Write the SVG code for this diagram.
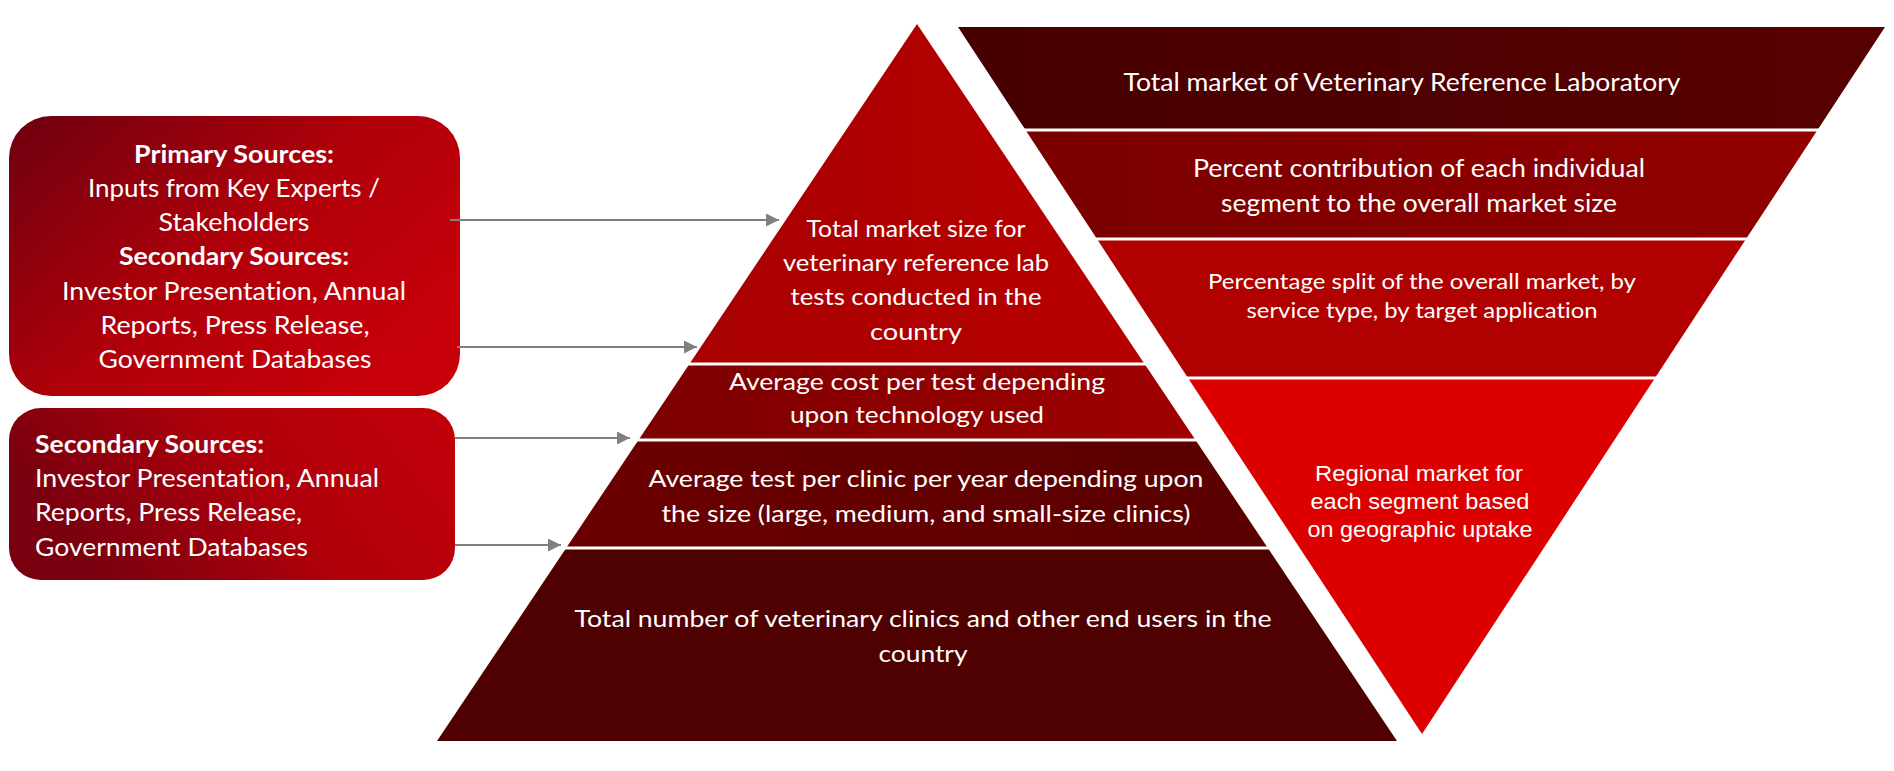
<svg xmlns="http://www.w3.org/2000/svg" width="1894" height="771" viewBox="0 0 1894 771">
  <defs>
    <linearGradient id="gBox1" x1="0" y1="0" x2="1" y2="0.7">
      <stop offset="0" stop-color="#6e0010"/>
      <stop offset="0.55" stop-color="#b0000a"/>
      <stop offset="1" stop-color="#c8000a"/>
    </linearGradient>
    <linearGradient id="gBox2" x1="0" y1="0.3" x2="1" y2="0">
      <stop offset="0" stop-color="#7a0010"/>
      <stop offset="0.5" stop-color="#b0000a"/>
      <stop offset="1" stop-color="#c4000a"/>
    </linearGradient>
    <linearGradient id="gP1" x1="0" y1="0" x2="1" y2="0">
      <stop offset="0" stop-color="#a80000"/>
      <stop offset="1" stop-color="#b80000"/>
    </linearGradient>
    <linearGradient id="gP2" x1="0" y1="0" x2="1" y2="0">
      <stop offset="0" stop-color="#7c0000"/>
      <stop offset="1" stop-color="#a00000"/>
    </linearGradient>
    <linearGradient id="gP3" x1="0" y1="0" x2="1" y2="0">
      <stop offset="0" stop-color="#6c0000"/>
      <stop offset="1" stop-color="#5a0000"/>
    </linearGradient>
    <linearGradient id="gI1" x1="0" y1="0" x2="1" y2="0">
      <stop offset="0" stop-color="#460000"/>
      <stop offset="1" stop-color="#580000"/>
    </linearGradient>
    <linearGradient id="gI2" x1="0" y1="0" x2="1" y2="0">
      <stop offset="0" stop-color="#7a0000"/>
      <stop offset="1" stop-color="#920000"/>
    </linearGradient>
    <marker id="arrow" viewBox="0 0 10 10" refX="10" refY="5" markerUnits="userSpaceOnUse" markerWidth="14" markerHeight="13" orient="auto">
      <path d="M0,0 L10,5 L0,10 Z" fill="#808080"/>
    </marker>
    <style>
      .t { font-family: Lato, "Open Sans", sans-serif; fill: #ffffff; font-variant-ligatures: none; font-feature-settings: "liga" 0, "clig" 0; }
      .c { text-anchor: middle; }
      .b { font-weight: bold; }
      .s25 { font-size: 25px; }
      .s24 { font-size: 24px; }
      .s22 { font-size: 22px; }
      .ar { font-family: "Liberation Sans", Arial, sans-serif; font-size: 22px; fill: #ffffff; text-anchor: middle; }
      .sep { stroke: #ffffff; stroke-width: 3; }
      .conn { stroke: #808080; stroke-width: 2; fill: none; marker-end: url(#arrow); }
    </style>
  </defs>

  <rect x="0" y="0" width="1894" height="771" fill="#ffffff"/>

  <!-- Left source boxes -->
  <g id="box-primary-secondary">
    <rect x="9" y="116" width="451" height="280" rx="42" ry="42" fill="url(#gBox1)"/>
    <text class="t c b s25" x="234" y="163" textLength="200" lengthAdjust="spacingAndGlyphs">Primary Sources:</text>
    <text class="t c s25" x="234" y="197" textLength="292" lengthAdjust="spacingAndGlyphs">Inputs from Key Experts /</text>
    <text class="t c s25" x="234" y="231" textLength="151" lengthAdjust="spacingAndGlyphs">Stakeholders</text>
    <text class="t c b s25" x="234" y="265" textLength="230" lengthAdjust="spacingAndGlyphs">Secondary Sources:</text>
    <text class="t c s25" x="234" y="300" textLength="344" lengthAdjust="spacingAndGlyphs">Investor Presentation, Annual</text>
    <text class="t c s25" x="235" y="334" textLength="269" lengthAdjust="spacingAndGlyphs">Reports, Press Release,</text>
    <text class="t c s25" x="235" y="368" textLength="273" lengthAdjust="spacingAndGlyphs">Government Databases</text>
  </g>

  <g id="box-secondary">
    <rect x="9" y="408" width="446" height="172" rx="32" ry="32" fill="url(#gBox2)"/>
    <text class="t b s25" x="35" y="453" textLength="229" lengthAdjust="spacingAndGlyphs">Secondary Sources:</text>
    <text class="t s25" x="35" y="487" textLength="344" lengthAdjust="spacingAndGlyphs">Investor Presentation, Annual</text>
    <text class="t s25" x="35" y="521" textLength="267" lengthAdjust="spacingAndGlyphs">Reports, Press Release,</text>
    <text class="t s25" x="35" y="556" textLength="273" lengthAdjust="spacingAndGlyphs">Government Databases</text>
  </g>

  <!-- Upward pyramid -->
  <g id="pyramid-top">
    <polygon points="917,24 1144.6,364 689.4,364" fill="url(#gP1)"/>
    <text class="t c s24" x="916" y="237" textLength="219" lengthAdjust="spacingAndGlyphs">Total market size for</text>
    <text class="t c s24" x="916" y="271" textLength="266" lengthAdjust="spacingAndGlyphs">veterinary reference lab</text>
    <text class="t c s24" x="916" y="305" textLength="251" lengthAdjust="spacingAndGlyphs">tests conducted in the</text>
    <text class="t c s24" x="916" y="340" textLength="92" lengthAdjust="spacingAndGlyphs">country</text>
  </g>
  <g id="pyramid-cost">
    <polygon points="689.4,364 1144.6,364 1195.5,440 638.5,440" fill="url(#gP2)"/>
    <text class="t c s24" x="917" y="390" textLength="376" lengthAdjust="spacingAndGlyphs">Average cost per test depending</text>
    <text class="t c s24" x="917" y="423" textLength="254" lengthAdjust="spacingAndGlyphs">upon technology used</text>
  </g>
  <g id="pyramid-tests">
    <polygon points="638.5,440 1195.5,440 1267.8,548 566.2,548" fill="url(#gP3)"/>
    <text class="t c s24" x="926" y="487" textLength="555" lengthAdjust="spacingAndGlyphs">Average test per clinic per year depending upon</text>
    <text class="t c s24" x="926" y="522" textLength="529" lengthAdjust="spacingAndGlyphs">the size (large, medium, and small-size clinics)</text>
  </g>
  <g id="pyramid-clinics">
    <polygon points="566.2,548 1267.8,548 1397,741 437,741" fill="#4f0000"/>
    <text class="t c s24" x="923" y="627" textLength="697" lengthAdjust="spacingAndGlyphs">Total number of veterinary clinics and other end users in the</text>
    <text class="t c s24" x="923" y="662" textLength="89" lengthAdjust="spacingAndGlyphs">country</text>
  </g>

  <!-- Inverted triangle -->
  <g id="inv-total">
    <polygon points="958,27 1885,27 1817.5,130 1025.5,130" fill="url(#gI1)"/>
    <text class="t c s25" x="1402" y="91" textLength="557" lengthAdjust="spacingAndGlyphs">Total market of Veterinary Reference Laboratory</text>
  </g>
  <g id="inv-percent">
    <polygon points="1025.5,130 1817.5,130 1746,239 1097,239" fill="url(#gI2)"/>
    <text class="t c s25" x="1419" y="177" textLength="452" lengthAdjust="spacingAndGlyphs">Percent contribution of each individual</text>
    <text class="t c s25" x="1419" y="212" textLength="396" lengthAdjust="spacingAndGlyphs">segment to the overall market size</text>
  </g>
  <g id="inv-split">
    <polygon points="1097,239 1746,239 1655,378 1188,378" fill="#b00000"/>
    <text class="t c s22" x="1422" y="289" textLength="428" lengthAdjust="spacingAndGlyphs">Percentage split of the overall market, by</text>
    <text class="t c s22" x="1422" y="318" textLength="351" lengthAdjust="spacingAndGlyphs">service type, by target application</text>
  </g>
  <g id="inv-regional">
    <polygon points="1188,378 1655,378 1422,734" fill="#dc0000"/>
    <text class="ar" x="1419" y="481" textLength="208" lengthAdjust="spacingAndGlyphs">Regional market for</text>
    <text class="ar" x="1420" y="509" textLength="219" lengthAdjust="spacingAndGlyphs">each segment based</text>
    <text class="ar" x="1420" y="537" textLength="225" lengthAdjust="spacingAndGlyphs">on geographic uptake</text>
  </g>

  <!-- Separators -->
  <g id="separators">
    <line class="sep" x1="686" y1="364" x2="1148" y2="364"/>
    <line class="sep" x1="635" y1="440" x2="1199" y2="440"/>
    <line class="sep" x1="563" y1="548" x2="1271" y2="548"/>
    <line class="sep" x1="1022" y1="130" x2="1821" y2="130"/>
    <line class="sep" x1="1093" y1="239" x2="1750" y2="239"/>
    <line class="sep" x1="1184" y1="378" x2="1659" y2="378"/>
  </g>

  <!-- Connectors -->
  <g id="connectors">
    <line class="conn" x1="450" y1="220" x2="779" y2="220"/>
    <line class="conn" x1="457" y1="347" x2="697" y2="347"/>
    <line class="conn" x1="455" y1="438" x2="630" y2="438"/>
    <line class="conn" x1="455" y1="545" x2="561" y2="545"/>
  </g>
</svg>
